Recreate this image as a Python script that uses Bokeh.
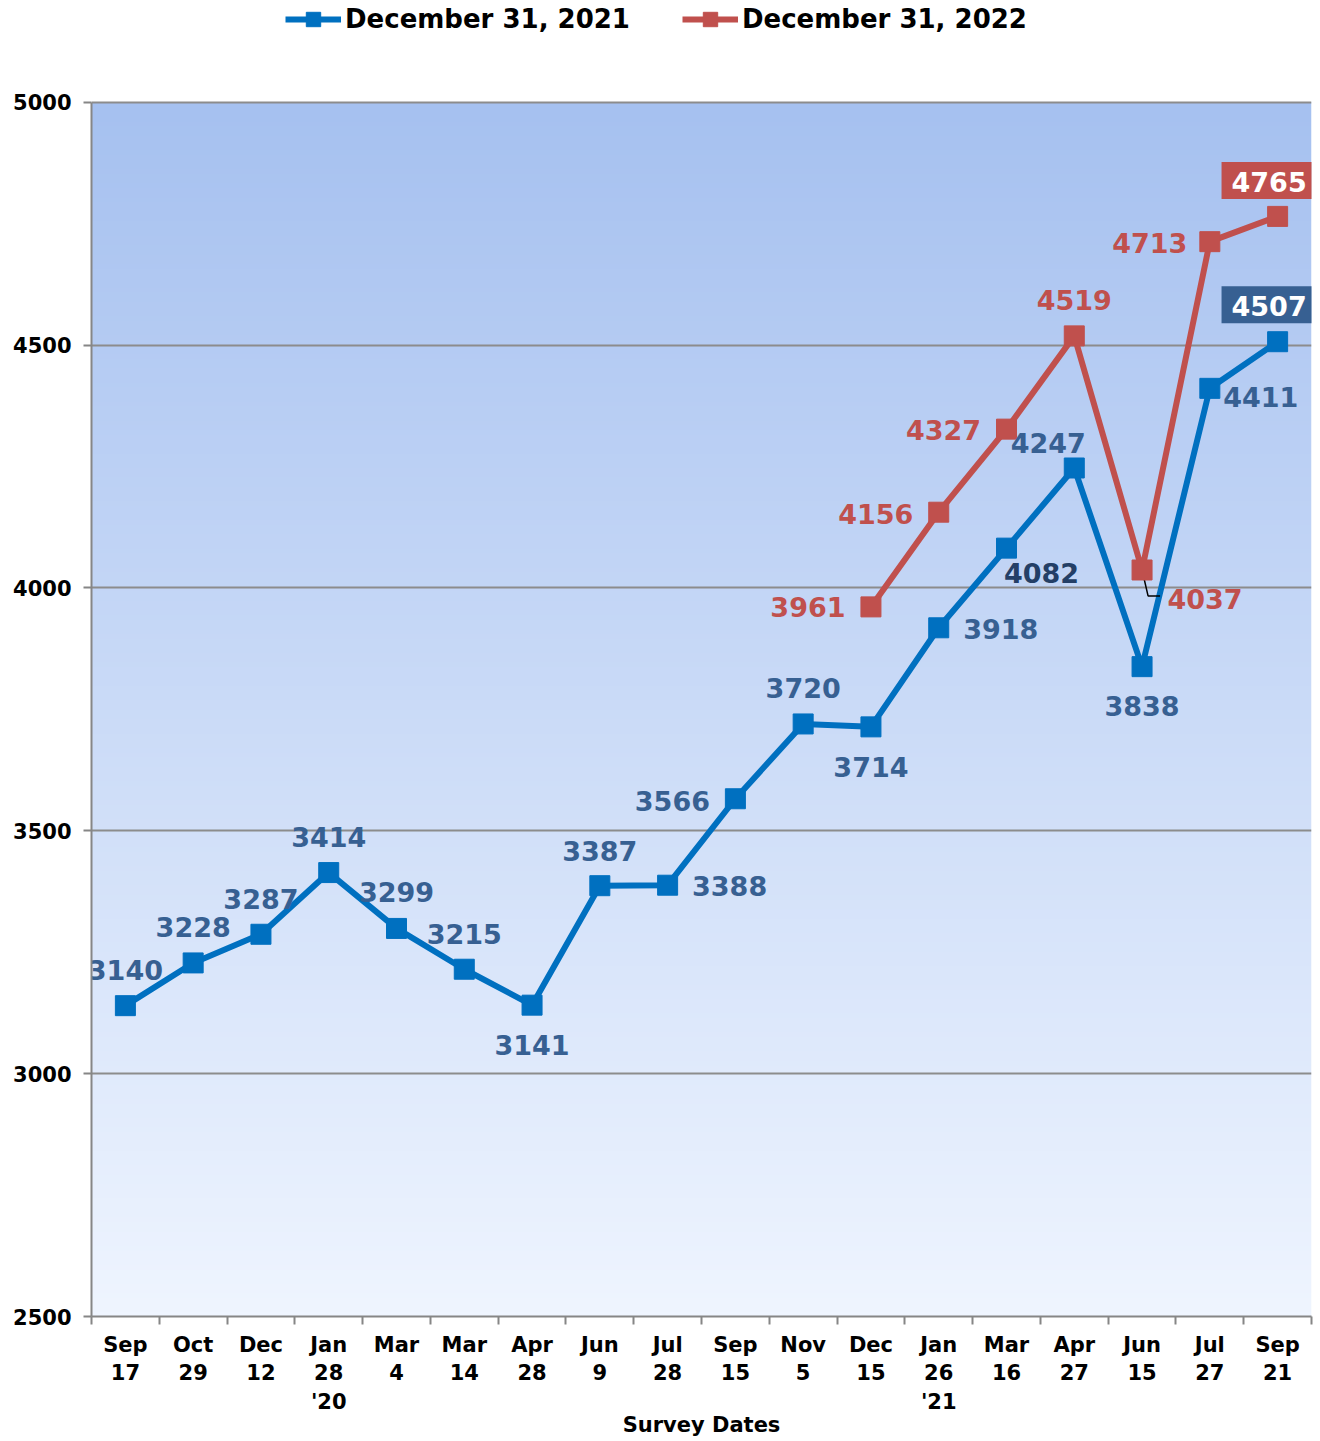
import numpy as np
from bokeh.plotting import figure
from bokeh.models import Range1d, FixedTicker, Legend, LegendItem, ColumnDataSource, Grid
from bokeh.core.properties import value
from bokeh.embed import file_html
from bokeh.resources import INLINE

# ---- data ----
categories = ["Sep\n17", "Oct\n29", "Dec\n12", "Jan\n28\n'20", "Mar\n4", "Mar\n14", "Apr\n28",
              "Jun\n9", "Jul\n28", "Sep\n15", "Nov\n5", "Dec\n15", "Jan\n26\n'21", "Mar\n16",
              "Apr\n27", "Jun\n15", "Jul\n27", "Sep\n21"]
dec2021 = [3140, 3228, 3287, 3414, 3299, 3215, 3141, 3387, 3388, 3566, 3720, 3714, 3918, 4082,
           4247, 3838, 4411, 4507]
dec2022_start = 11
dec2022 = [3961, 4156, 4327, 4519, 4037, 4713, 4765]
y_ticks = [2500, 3000, 3500, 4000, 4500, 5000]
y_min, y_max = 2500, 5000

# label placements (screen px, +y = down)
blue_off = [(0, -36), (0, -36), (0, -35), (0, -36), (0, -36), (0, -35), (0, 40), (0, -35),
            (62, 1), (-63, 2), (0, -36), (0, 40), (62, 1), (35, 25), (-26, -25), (0, 39),
            (51, 9), (-10, -37)]
red_off = [(-63, 0), (-63, 2), (-63, 1), (0, -36), (63, 29), (-60, 1), (-10, -36)]

BLUE = "#0070C0"
RED = "#C0504D"
BLUE_TXT = "#376092"
FONT = "DejaVu Sans"
GRAY = "#868686"

W, H = 1316, 1440
BL, TOP_PX, BB = 91, 102, 121
BR = W - 1311
plot_px = H - TOP_PX - BB            # pixels spanned by y_min..y_max
frame_h = H - BB
y_end = y_max + TOP_PX * (y_max - y_min) / plot_px   # room for legend above the plot area
ncat = len(categories)

p = figure(width=W, height=H, output_backend="svg", toolbar_location=None,
           x_range=Range1d(-0.5, ncat - 0.5), y_range=Range1d(y_min, y_end),
           min_border_left=BL, min_border_right=BR, min_border_top=0, min_border_bottom=BB)
p.background_fill_color = "white"
p.border_fill_color = "white"
p.outline_line_color = None

# gradient background
n = 256
t = np.linspace(0, 1, n)
top = np.array([166, 193, 240])
bot = np.array([239, 245, 255])
cols = (bot[None, :] * (1 - t[:, None]) + top[None, :] * t[:, None]).astype(np.uint32)
img = np.empty((n, 1), dtype=np.uint32)
view = img.view(dtype=np.uint8).reshape((n, 1, 4))
view[:, 0, 0] = cols[:, 0]
view[:, 0, 1] = cols[:, 1]
view[:, 0, 2] = cols[:, 2]
view[:, 0, 3] = 255
p.image_rgba(image=[img], x=-0.5, y=y_min, dw=ncat, dh=y_max - y_min, level="image")

# axes
xs = list(range(ncat))
p.xaxis.ticker = FixedTicker(ticks=xs, minor_ticks=[i - 0.5 for i in range(ncat + 1)])
p.xaxis.major_label_overrides = {i: c for i, c in enumerate(categories)}
p.xaxis.major_tick_out = 0
p.xaxis.major_tick_in = 0
p.xaxis.minor_tick_out = 8
p.xaxis.minor_tick_in = 0
p.xaxis.minor_tick_line_color = GRAY
p.xaxis.minor_tick_line_width = 2
p.xaxis.axis_label = "Survey Dates"

p.yaxis.ticker = FixedTicker(ticks=y_ticks)
p.yaxis.bounds = (y_min, y_max)
p.yaxis.major_tick_out = 8
p.yaxis.major_tick_in = 0
p.yaxis.minor_tick_line_color = None

for ax in (p.xaxis, p.yaxis):
    ax.axis_line_color = GRAY
    ax.axis_line_width = 2
    ax.major_tick_line_color = GRAY
    ax.major_tick_line_width = 2
    ax.major_label_text_font = FONT
    ax.major_label_text_font_style = "bold"
    ax.major_label_text_font_size = "21px"
    ax.major_label_text_color = "black"
    ax.axis_label_text_font = FONT
    ax.axis_label_text_font_style = "bold"
    ax.axis_label_text_font_size = "21px"
    ax.axis_label_text_color = "black"
p.xaxis.major_label_standoff = 8
p.xaxis.axis_label_standoff = -4
p.yaxis.major_label_standoff = 12

p.xgrid.grid_line_color = None
p.ygrid.grid_line_color = "#8C8C8C"
p.ygrid.grid_line_width = 2
p.ygrid.ticker = FixedTicker(ticks=y_ticks)
# right border of the plot area
p.add_layout(Grid(dimension=0, ticker=FixedTicker(ticks=[ncat - 0.5]), bounds=(y_min, y_max),
                  grid_line_color="#A6A6A6", grid_line_width=2))

# series
red_x = list(range(dec2022_start, dec2022_start + len(dec2022)))
bl = p.line(xs, dec2021, line_color=BLUE, line_width=6)
bs = p.scatter(xs, dec2021, marker="square", size=20, fill_color=BLUE, line_color=BLUE)

# leader line for 4037 label
dxp = ncat / (W - BL - BR)
dyp = (y_max - y_min) / plot_px
i4037 = 4
lx = [red_x[i4037], red_x[i4037] + 6 * dxp, red_x[i4037] + 18 * dxp]
ly = [dec2022[i4037], dec2022[i4037] - 26 * dyp, dec2022[i4037] - 26 * dyp]
p.line(lx, ly, line_color="black", line_width=1.5)

rl = p.line(red_x, dec2022, line_color=RED, line_width=6)
rs = p.scatter(red_x, dec2022, marker="square", size=20, fill_color=RED, line_color=RED)

# data labels
blue_col = [BLUE_TXT] * len(dec2021)
blue_col[13] = "#243F66"
bsrc = ColumnDataSource(dict(x=xs[:-1], y=dec2021[:-1], t=[str(v) for v in dec2021[:-1]],
                             xo=[o[0] for o in blue_off[:-1]], yo=[o[1] for o in blue_off[:-1]],
                             c=blue_col[:-1]))
p.text("x", "y", text="t", source=bsrc, x_offset="xo", y_offset="yo", text_color="c",
       text_align="center", text_baseline="middle", text_font=value(FONT),
       text_font_style="bold", text_font_size="27px")
rsrc = ColumnDataSource(dict(x=red_x[:-1], y=dec2022[:-1], t=[str(v) for v in dec2022[:-1]],
                             xo=[o[0] for o in red_off[:-1]], yo=[o[1] for o in red_off[:-1]]))
p.text("x", "y", text="t", source=rsrc, x_offset="xo", y_offset="yo", text_color=RED,
       text_align="center", text_baseline="middle", text_font=value(FONT),
       text_font_style="bold", text_font_size="27px")
# boxed last labels
for xv, yv, off, bg in [(xs[-1], dec2021[-1], blue_off[-1], "#376092"),
                        (red_x[-1], dec2022[-1], red_off[-1], RED)]:
    p.text([xv], [yv], text=[str(yv)], x_offset=off[0], y_offset=off[1], text_color="white",
           text_align="center", text_baseline="middle", text_font=value(FONT),
           text_font_style="bold", text_font_size="27px",
           background_fill_color=bg, padding=[10, 7, 10, 7])

legend = Legend(items=[LegendItem(label="December 31, 2021", renderers=[bl, bs]),
                       LegendItem(label="December 31, 2022", renderers=[rl, rs])],
                location=(194, frame_h - 40), orientation="horizontal")
legend.label_text_font = FONT
legend.label_text_font_style = "bold"
legend.label_text_font_size = "26px"
legend.label_text_color = "black"
legend.glyph_width = 56
legend.glyph_height = 36
legend.label_standoff = 4
legend.spacing = 52
legend.padding = 0
legend.margin = 0
legend.border_line_color = None
legend.background_fill_alpha = 0
p.add_layout(legend, "center")

open("out.html", "w").write(file_html(p, INLINE))
